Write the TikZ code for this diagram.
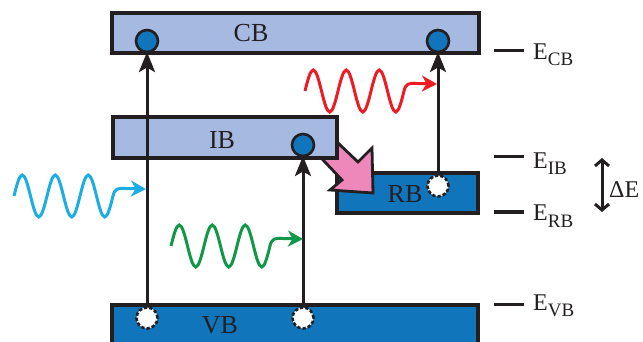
\documentclass[tikz,border=0pt]{standalone}
\usepackage{fontspec}
\setmainfont{Liberation Serif}
\usetikzlibrary{arrows.meta}
\definecolor{lightband}{HTML}{A6B9E1}
\definecolor{darkband}{HTML}{1075BB}
\definecolor{ink}{HTML}{231F20}
\definecolor{pinkarrow}{HTML}{EF88BA}
\definecolor{redwave}{HTML}{ED1C24}
\definecolor{bluewave}{HTML}{1CADE4}
\definecolor{greenwave}{HTML}{109848}
\pgfdeclarelayer{bandlayer}
\pgfdeclarelayer{arrowlayer}
\pgfsetlayers{bandlayer,arrowlayer,main}
\newcommand{\photonpath}[3]{%
  \draw[photonline,#1,shift={(#2,#3)}]
    (0,0) sin (8.25,-21) cos (16.5,0) sin (24.75,21) cos (33,0)
    sin (41.25,-21) cos (49.5,0) sin (57.75,21) cos (66,0)
    sin (74.25,-21) cos (82.5,0) sin (90.75,21) cos (99,0)
    .. controls (100.5,-7) and (104,-8.5) .. (112,-7.5) -- (132,-7);}
\begin{document}
\begin{tikzpicture}[x=1pt,y=-1pt,
  band/.style={draw=ink,line width=3.3pt,inner sep=0,outer sep=0,anchor=north west},
  lightb/.style={band,fill=lightband},
  darkb/.style={band,fill=darkband},
  electron/.style={circle,minimum size=22pt,inner sep=0,outer sep=0,fill=darkband,draw=ink,line width=2.6pt},
  hole/.style={circle,minimum size=21pt,inner sep=0,outer sep=0,fill=white,draw=ink,line width=2.6pt,dash pattern=on 3.4pt off 2pt},
  vert/.style={draw=ink,line width=3pt,-{Stealth[length=20pt,width=16pt,inset=4.5pt]}},
  photonline/.style={line width=3pt,-{Stealth[length=15pt,width=16pt,inset=4.5pt]}},
  bandlabel/.style={font=\fontsize{26}{26}\selectfont,text=ink,inner sep=0,anchor=base},
  elabel/.style={font=\fontsize{24}{24}\selectfont,text=ink,inner sep=0,anchor=base west},
  tick/.style={draw=ink,line width=3pt},
  pinkstyle/.style={fill=pinkarrow,draw=ink,line width=2.8pt,line join=miter}]
\useasboundingbox (0,0) rectangle (643,342);
\clip (0,0) rectangle (643,342);

\begin{pgfonlayer}{bandlayer}
  \node[lightb,minimum width=367pt,minimum height=40pt] (CB) at (112,13) {};
  \node[darkb,minimum width=141pt,minimum height=40pt] (RB) at (337,173) {};
  \draw[pinkstyle] (318,124) -- (358,162) -- (372,148) -- (373,193) -- (330,190) -- (342,180) -- (306,142) -- cycle;
  \node[lightb,minimum width=224pt,minimum height=41pt] (IB) at (113,117) {};
  \node[darkb,minimum width=366pt,minimum height=60pt] (VB) at (112,305) {};
\end{pgfonlayer}

% carriers
\node[electron] (e1) at (147,41) {};
\node[electron] (e2) at (438,41) {};
\node[electron] (e3) at (303,145) {};
\node[hole] (h1) at (147,318) {};
\node[hole] (h2) at (303,318) {};
\node[hole] (h3) at (438,186) {};

\begin{pgfonlayer}{arrowlayer}
  \draw[vert] (h1.center) -- (e1.south);
  \draw[vert] (h2.center) -- (e3.south);
  \draw[vert] (h3.center) -- (e2.south);
  \photonpath{bluewave}{14}{196}
  \photonpath{greenwave}{171}{246}
  \photonpath{redwave}{305}{91}
\end{pgfonlayer}

% band labels
\node[bandlabel] (tCB) at (251,42) {CB};
\node[bandlabel] (tIB) at (222,149) {IB};
\node[bandlabel] (tRB) at (405,203) {RB};
\node[bandlabel] (tVB) at (220,333) {VB};

% energy levels
\coordinate (dCBa) at (494,51);  \coordinate (dCBb) at (524,51);
\coordinate (dIBa) at (494,157); \coordinate (dIBb) at (524,157);
\coordinate (dRBa) at (494,212); \coordinate (dRBb) at (524,212);
\coordinate (dVBa) at (494,304); \coordinate (dVBb) at (524,304);
\draw[tick] (dCBa) -- (dCBb);
\draw[tick] (dIBa) -- (dIBb);
\draw[tick] (dRBa) -- (dRBb);
\draw[tick] (dVBa) -- (dVBb);
\node[elabel] (ECB) at (533,60) {E\raisebox{-6pt}{\fontsize{19}{19}\selectfont CB}};
\node[elabel] (EIB) at (533,168) {E\raisebox{-6pt}{\fontsize{19}{19}\selectfont IB}};
\node[elabel] (ERB) at (533,221) {E\raisebox{-6pt}{\fontsize{19}{19}\selectfont RB}};
\node[elabel] (EVB) at (533,310) {E\raisebox{-6pt}{\fontsize{19}{19}\selectfont VB}};

\coordinate (dEt) at (602,158);
\coordinate (dEb) at (602,212);
\draw[draw=ink,line width=3pt,{Straight Barb[length=6pt,width=14pt]}-{Straight Barb[length=6pt,width=14pt]}] (dEt) -- (dEb);
\node[elabel] (dE) at (609,197) {ΔE};
\end{tikzpicture}
\end{document}
